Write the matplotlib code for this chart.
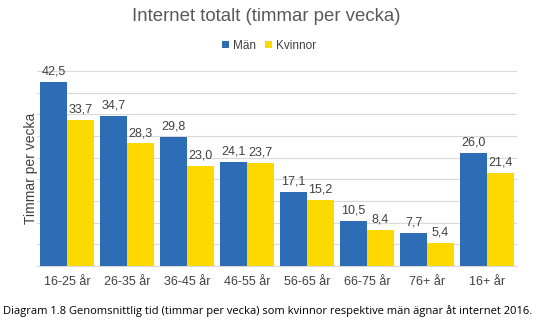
import matplotlib
matplotlib.use('Agg')
import matplotlib.pyplot as plt
import numpy as np

# data
groups = ['16-25 år', '26-35 år', '36-45 år', '46-55 år', '56-65 år', '66-75 år', '76+ år', '16+ år']
man = [42.5, 34.7, 29.8, 24.1, 17.1, 10.5, 7.7, 26.0]
kvinnor = [33.7, 28.3, 23.0, 23.7, 15.2, 8.4, 5.4, 21.4]

BLUE = '#2D6DB5'
YELLOW = '#FDD900'
TXT = '#404040'

plt.rcParams['font.family'] = ['Liberation Sans', 'DejaVu Sans']

fig = plt.figure(figsize=(5.43, 3.23), dpi=100)
ax = fig.add_axes([37 / 543, 57 / 323, 480 / 543, 195 / 323])

x = np.arange(len(groups))
w = 0.445
b1 = ax.bar(x - w / 2, man, w, color=BLUE, label='Män', zorder=3)
b2 = ax.bar(x + w / 2, kvinnor, w, color=YELLOW, label='Kvinnor', zorder=3)

def fmt(v):
    return f'{v:.1f}'.replace('.', ',')

for bars, vals in ((b1, man), (b2, kvinnor)):
    for bar, v in zip(bars, vals):
        ax.text(bar.get_x() + bar.get_width() / 2, v + 1.0, fmt(v),
                ha='center', va='bottom', fontsize=9, color=TXT, zorder=4)

ax.set_xlim(-0.5, len(groups) - 0.5)
ax.set_ylim(0, 45)
ax.set_yticks(np.arange(0, 46, 5))
ax.set_yticklabels([])
ax.tick_params(axis='y', length=0)
ax.tick_params(axis='x', length=0, pad=7, labelsize=9, labelcolor=TXT)
ax.set_xticks(x)
ax.set_xticklabels(groups)
ax.grid(axis='y', color='#D9D9D9', linewidth=0.8, zorder=0)
for s in ['top', 'right', 'left']:
    ax.spines[s].set_visible(False)
ax.spines['bottom'].set_color('#D9D9D9')

ax.set_ylabel('Timmar per vecka', fontsize=10, color=TXT, labelpad=-4)

fig.text(0.491, 0.948, 'Internet totalt (timmar per vecka)', ha='center', va='center',
         fontsize=13.4, color='#595959')
fig.legend(loc='center', bbox_to_anchor=(0.495, 0.858), ncol=2, frameon=False,
           fontsize=8.5, handlelength=0.6, handleheight=0.6, handletextpad=0.3,
           columnspacing=0.8, labelcolor=TXT)

fig.text(0.006, 0.036, 'Diagram 1.8 Genomsnittlig tid (timmar per vecka) som kvinnor respektive män ägnar åt internet 2016.',
         ha='left', va='center', fontsize=8.05, color='black', family=['Open Sans', 'DejaVu Sans'])

fig.savefig('out.png', dpi=100, facecolor='white')
